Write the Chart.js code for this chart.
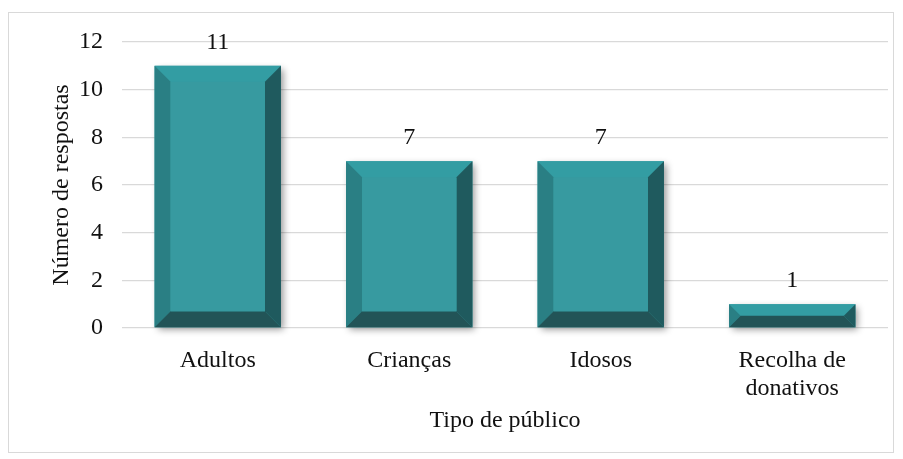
<!DOCTYPE html>
<html>
<head>
<meta charset="utf-8">
<script src="https://cdn.jsdelivr.net/npm/chart.js@4/dist/chart.umd.min.js"></script>
<style>
  html, body { margin: 0; padding: 0; background: #fff; }
  #wrap { position: relative; width: 903px; height: 459px; }
</style>
</head>
<body>
<div id="wrap"><canvas id="publicoChart" width="903" height="459"></canvas></div>
<script>
// Respostas por tipo de público
const categorias = ["Adultos", "Crianças", "Idosos", ["Recolha de", "donativos"]];
const respostas = [11, 7, 7, 1];
const yTicks = [0, 2, 4, 6, 8, 10, 12];

const FONT = "'Liberation Serif', 'Times New Roman', serif";
const FSIZE = 24;

// Bevelled bars with soft shadow, plus value labels and outer frame
const bevelBars = {
  id: "bevelBars",
  beforeDraw(chart) {
    const ctx = chart.ctx;
    ctx.save();
    ctx.strokeStyle = "#d9d9d9";
    ctx.lineWidth = 1;
    ctx.strokeRect(8.5, 12.5, 885, 440);
    ctx.restore();
  },
  afterDatasetsDraw(chart) {
    const ctx = chart.ctx;
    const meta = chart.getDatasetMeta(0);
    meta.data.forEach((bar, i) => {
      const x0 = bar.x - bar.width / 2;
      const x1 = bar.x + bar.width / 2;
      const y0 = bar.y;
      const y1 = bar.base;
      const d = Math.min(16, (y1 - y0) / 2, bar.width / 2);

      ctx.save();
      ctx.shadowColor = "rgba(0,0,0,0.4)";
      ctx.shadowBlur = 7;
      ctx.shadowOffsetX = 3;
      ctx.shadowOffsetY = 3;
      ctx.fillStyle = "#369ca2";
      ctx.fillRect(x0, y0, x1 - x0, y1 - y0);
      ctx.restore();

      const poly = (pts, color) => {
        ctx.beginPath();
        ctx.moveTo(pts[0][0], pts[0][1]);
        for (let k = 1; k < pts.length; k++) ctx.lineTo(pts[k][0], pts[k][1]);
        ctx.closePath();
        ctx.fillStyle = color;
        ctx.fill();
      };
      poly([[x0, y0], [x1, y0], [x1 - d, y0 + d], [x0 + d, y0 + d]], "#339da3");
      poly([[x0, y0], [x0 + d, y0 + d], [x0 + d, y1 - d], [x0, y1]], "#2a7f84");
      poly([[x1, y0], [x1, y1], [x1 - d, y1 - d], [x1 - d, y0 + d]], "#1f5a5e");
      poly([[x0, y1], [x1, y1], [x1 - d, y1 - d], [x0 + d, y1 - d]], "#225457");
      ctx.fillStyle = "#379aa0";
      ctx.fillRect(x0 + d, y0 + d, x1 - x0 - 2 * d, y1 - y0 - 2 * d);

      ctx.save();
      ctx.fillStyle = "#111";
      ctx.font = FSIZE + "px " + FONT;
      ctx.textAlign = "center";
      ctx.textBaseline = "alphabetic";
      ctx.fillText(String(respostas[i]), bar.x, y0 - 17);
      ctx.restore();
    });
  },
};

new Chart(document.getElementById("publicoChart"), {
  type: "bar",
  data: {
    labels: categorias,
    datasets: [
      {
        data: respostas,
        backgroundColor: "rgba(0,0,0,0)",
        borderWidth: 0,
        barPercentage: 0.66,
        categoryPercentage: 1,
      },
    ],
  },
  options: {
    responsive: false,
    animation: false,
    layout: { padding: { left: 40, right: 15, top: 42, bottom: 24 } },
    plugins: { legend: { display: false }, tooltip: { enabled: false } },
    scales: {
      x: {
        grid: { display: false },
        border: { display: false },
        ticks: { color: "#111", font: { family: FONT, size: FSIZE }, padding: 10, maxRotation: 0 },
        title: {
          display: true,
          text: "Tipo de público",
          color: "#111",
          font: { family: FONT, size: FSIZE },
          padding: { top: 10, bottom: 0 },
        },
        afterFit(scale) { scale.height = 107; },
      },
      y: {
        min: 0,
        max: 12,
        afterBuildTicks(scale) { scale.ticks = yTicks.map((v) => ({ value: v })); },
        grid: { color: "#d9d9d9", lineWidth: 1.3, drawTicks: false },
        border: { display: false },
        ticks: { color: "#111", font: { family: FONT, size: FSIZE }, padding: 19 },
        title: {
          display: true,
          text: "Número de respostas",
          color: "#111",
          font: { family: FONT, size: FSIZE },
          padding: { top: 7, bottom: 0 },
        },
        afterFit(scale) { scale.width = 82; },
      },
    },
  },
  plugins: [bevelBars],
});
</script>
</body>
</html>
